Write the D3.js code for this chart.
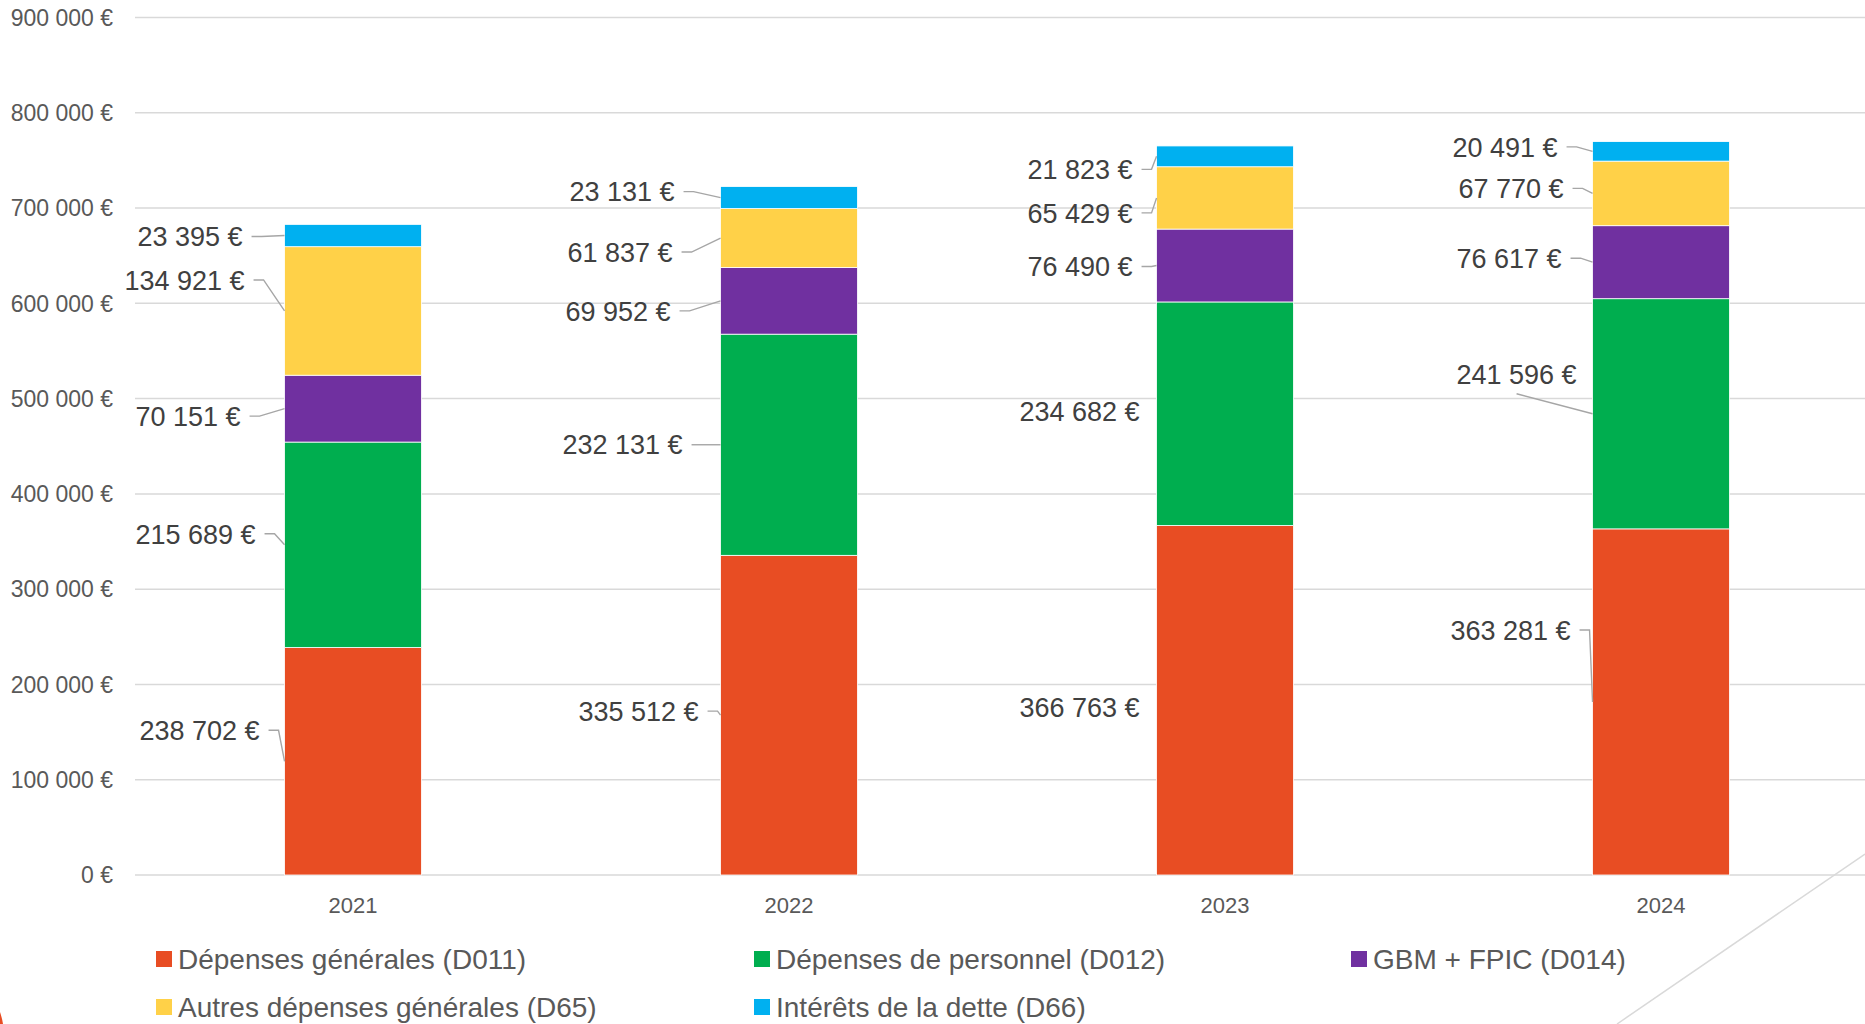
<!DOCTYPE html>
<html>
<head>
<meta charset="utf-8">
<script src="https://cdn.jsdelivr.net/npm/d3@7"></script>
<style>
  html, body { margin: 0; padding: 0; background: #fff; }
  svg { display: block; font-family: "Liberation Sans", Arial, sans-serif; }
</style>
</head>
<body>
<svg id="chart" width="1865" height="1024"></svg>
<script>
// ---------- DATA ----------
const years = ["2021", "2022", "2023", "2024"];
const seriesNames = [
  "Dépenses générales (D011)",
  "Dépenses de personnel (D012)",
  "GBM + FPIC (D014)",
  "Autres dépenses générales (D65)",
  "Intérêts de la dette (D66)"
];
const d011 = [238702, 335512, 366763, 363281];
const d012 = [215689, 232131, 234682, 241596];
const d014 = [70151, 69952, 76490, 76617];
const d65  = [134921, 61837, 65429, 67770];
const d66  = [23395, 23131, 21823, 20491];
const yTicks = [0, 100000, 200000, 300000, 400000, 500000, 600000, 700000, 800000, 900000];

// ---------- STYLE / LAYOUT ----------
const colors = ["#E84D23", "#00AE4F", "#7030A0", "#FFD148", "#00B0F0"];
// label placement (text right edge relative to bar left, text centre relative to segment middle), per series per year
const labelDx = [
  [-25, -22, -17, -22],
  [-29, -38, -17, -16],
  [-44, -50, -24, -31],
  [-40, -48, -24, -29],
  [-42, -46, -24, -35]
];
const labelDy = [
  [-31, -4, 7.5, -72],
  [-11, 0, -2, -40],
  [7.5, 10, 1, -4],
  [-31, 14, 15, -5],
  [1, -6, 13, -4.5]
];

const seriesValues = [d011, d012, d014, d65, d66];
const rows = years.map((yr, i) => {
  const r = { year: yr };
  seriesNames.forEach((s, k) => r[s] = seriesValues[k][i]);
  return r;
});

const svg = d3.select("#chart");
const W = 1865, H = 1024;

const x = d3.scaleBand().domain(years).range([135, 1879]).paddingInner(0.686).paddingOuter(0.343);
const y = d3.scaleLinear().domain([0, 900000]).range([875, 17.5]);

const loc = d3.formatLocale({ decimal: ",", thousands: " ", grouping: [3], currency: ["", " €"] });
const fmt = v => loc.format(",.0f")(v) + " €";

// decorative elements
svg.append("line").attr("x1", 1865).attr("y1", 854).attr("x2", 1617).attr("y2", 1024)
  .attr("stroke", "#d9d9d9").attr("stroke-width", 1.5);
svg.append("path").attr("d", "M0,1012 Q2,1018 3,1024 L0,1024 Z").attr("fill", "#E84D23");

// gridlines
const grid = svg.append("g");
grid.selectAll("line").data(yTicks).join("line")
  .attr("x1", 135).attr("x2", W)
  .attr("y1", d => y(d)).attr("y2", d => y(d))
  .attr("stroke", "#d9d9d9").attr("stroke-width", 1.5);

// y axis labels
svg.append("g").selectAll("text").data(yTicks).join("text")
  .attr("x", 113).attr("y", d => y(d)).attr("dy", "0.36em")
  .attr("text-anchor", "end").attr("fill", "#595959").attr("font-size", 23)
  .text(d => fmt(d));

// x axis labels
svg.append("g").selectAll("text").data(years).join("text")
  .attr("x", d => x(d) + x.bandwidth() / 2).attr("y", 913)
  .attr("text-anchor", "middle").attr("fill", "#595959").attr("font-size", 22)
  .text(d => d);

// stacked bars
const stack = d3.stack().keys(seriesNames);
const stacked = stack(rows);

const layers = svg.append("g").selectAll("g").data(stacked).join("g")
  .attr("fill", (d, k) => colors[k]);
layers.selectAll("rect").data(d => d).join("rect")
  .attr("x", d => x(d.data.year))
  .attr("width", x.bandwidth())
  .attr("y", d => y(d[1]))
  .attr("height", d => y(d[0]) - y(d[1]))
  .attr("stroke", "#fff").attr("stroke-width", 0.8);

// data labels with leader lines
const labG = svg.append("g");
stacked.forEach((layer, k) => {
  layer.forEach((d, i) => {
    const barLeft = x(d.data.year);
    const mid = y((d[0] + d[1]) / 2);
    const tx = barLeft + labelDx[k][i];
    const ty = mid + labelDy[k][i];
    labG.append("text")
      .attr("x", tx).attr("y", ty).attr("dy", "0.36em")
      .attr("text-anchor", "end").attr("fill", "#404040").attr("font-size", 27)
      .text(fmt(d[1] - d[0]));
    const dx = labelDx[k][i], dy = labelDy[k][i];
    let pts = null;
    if (dx < -18) {
      pts = [[tx + 9, ty], [tx + 19, ty], [barLeft, mid]];
    } else if (Math.abs(dy) > 30) {
      pts = [[tx - 60, ty + 20], [barLeft, mid]];
    }
    if (pts) {
      labG.append("path")
        .attr("d", d3.line()(pts))
        .attr("fill", "none").attr("stroke", "#a6a6a6").attr("stroke-width", 1.4);
    }
  });
});

// legend
const legendPos = [[156, 959], [754, 959], [1351, 959], [156, 1007], [754, 1007]];
const leg = svg.append("g");
seriesNames.forEach((s, k) => {
  const [lx, ly] = legendPos[k];
  leg.append("rect").attr("x", lx).attr("y", ly - 8).attr("width", 16).attr("height", 16).attr("fill", colors[k]);
  leg.append("text").attr("x", lx + 22).attr("y", ly).attr("dy", "0.36em")
    .attr("fill", "#595959").attr("font-size", 28).text(s);
});
</script>
</body>
</html>
